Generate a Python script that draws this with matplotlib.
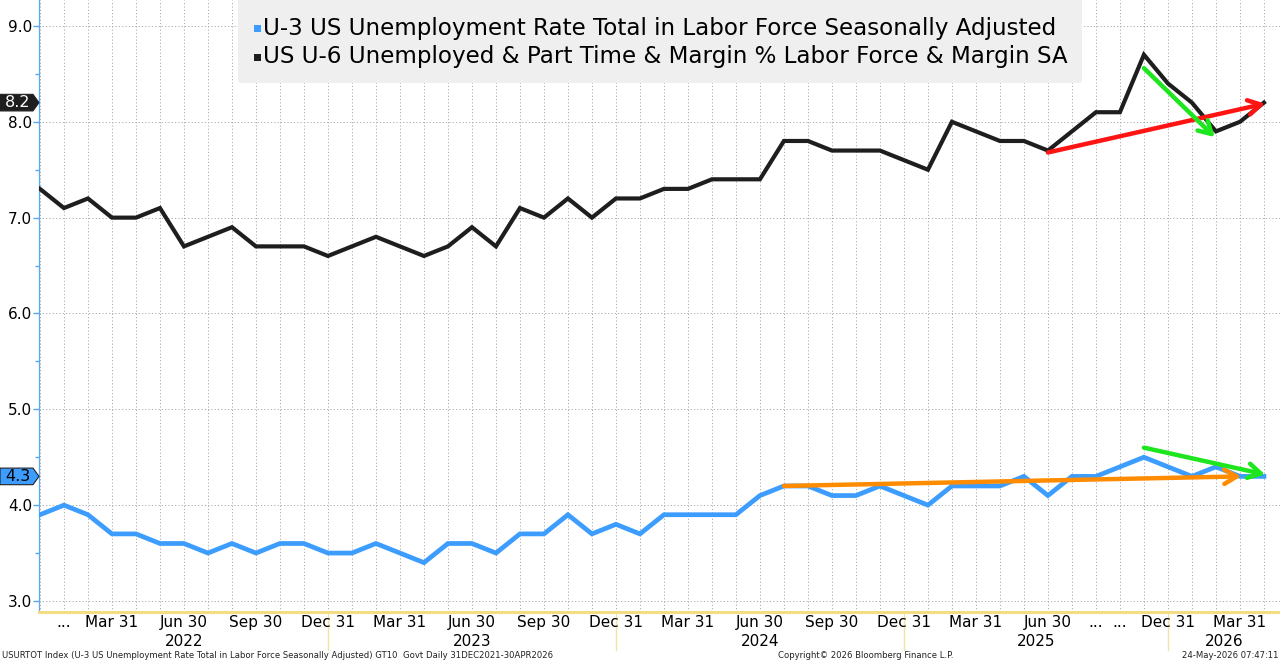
import matplotlib
matplotlib.use("Agg")
import matplotlib.pyplot as plt
from matplotlib.patches import Polygon, FancyBboxPatch
from matplotlib.transforms import blended_transform_factory

# ---------------- data ----------------
months = ["Dec-21", "Jan-22", "Feb-22", "Mar-22", "Apr-22", "May-22", "Jun-22", "Jul-22", "Aug-22",
          "Sep-22", "Oct-22", "Nov-22", "Dec-22", "Jan-23", "Feb-23", "Mar-23", "Apr-23", "May-23",
          "Jun-23", "Jul-23", "Aug-23", "Sep-23", "Oct-23", "Nov-23", "Dec-23", "Jan-24", "Feb-24",
          "Mar-24", "Apr-24", "May-24", "Jun-24", "Jul-24", "Aug-24", "Sep-24", "Oct-24", "Nov-24",
          "Dec-24", "Jan-25", "Feb-25", "Mar-25", "Apr-25", "May-25", "Jun-25", "Jul-25", "Aug-25",
          "Sep-25", "Nov-25", "Dec-25", "Jan-26", "Feb-26", "Mar-26", "Apr-26"]

u6 = [7.3, 7.1, 7.2, 7.0, 7.0, 7.1, 6.7, 6.8, 6.9, 6.7, 6.7, 6.7, 6.6, 6.7, 6.8, 6.7, 6.6, 6.7,
      6.9, 6.7, 7.1, 7.0, 7.2, 7.0, 7.2, 7.2, 7.3, 7.3, 7.4, 7.4, 7.4, 7.8, 7.8, 7.7, 7.7, 7.7,
      7.6, 7.5, 8.0, 7.9, 7.8, 7.8, 7.7, 7.9, 8.1, 8.1, 8.7, 8.4, 8.2, 7.9, 8.0, 8.2]

u3 = [3.9, 4.0, 3.9, 3.7, 3.7, 3.6, 3.6, 3.5, 3.6, 3.5, 3.6, 3.6, 3.5, 3.5, 3.6, 3.5, 3.4, 3.6,
      3.6, 3.5, 3.7, 3.7, 3.9, 3.7, 3.8, 3.7, 3.9, 3.9, 3.9, 3.9, 4.1, 4.2, 4.2, 4.1, 4.1, 4.2,
      4.1, 4.0, 4.2, 4.2, 4.2, 4.3, 4.1, 4.3, 4.3, 4.4, 4.5, 4.4, 4.3, 4.4, 4.3, 4.3]

x_tick_pos = [1, 3, 6, 9, 12, 15, 18, 21, 24, 27, 30, 33, 36, 39, 42, 44, 45, 47, 50]
x_tick_labels = ["...", "Mar 31", "Jun 30", "Sep 30", "Dec 31", "Mar 31", "Jun 30", "Sep 30",
                 "Dec 31", "Mar 31", "Jun 30", "Sep 30", "Dec 31", "Mar 31", "Jun 30", "...", "...",
                 "Dec 31", "Mar 31"]
year_labels = ["2022", "2023", "2024", "2025", "2026"]
year_bounds = [0, 12, 24, 36, 47]   # Dec-31 separator positions

y_ticks = [3.0, 4.0, 5.0, 6.0, 7.0, 8.0, 9.0]

u3_name = "U-3 US Unemployment Rate Total in Labor Force Seasonally Adjusted"
u6_name = "US U-6 Unemployed & Part Time & Margin % Labor Force & Margin SA"

# trend arrows (start index, start value, end index, end value, colour)
arrows = [
    (42, 7.68, 51.05, 8.19, "#ff1414"),
    (46, 8.56, 48.95, 7.84, "#1ee61e"),
    (31, 4.20, 50.05, 4.30, "#ff8c00"),
    (46, 4.60, 51.05, 4.32, "#1ee61e"),
]

footer_left = "USURTOT Index (U-3 US Unemployment Rate Total in Labor Force Seasonally Adjusted) GT10  Govt Daily 31DEC2021-30APR2026"
footer_mid = "Copyright\u00a9 2026 Bloomberg Finance L.P."
footer_right = "24-May-2026 07:47:11"

# ---------------- styling ----------------
BLUE = "#3d9dff"
BLACK = "#1e1e1e"
GRID = "#ababab"
W, H, DPI = 1280, 662, 100
plt.rcParams["font.family"] = ["DejaVu Sans"]

fig = plt.figure(figsize=(W / DPI, H / DPI), dpi=DPI, facecolor="white")
ax_l, ax_r, ax_b, ax_t = 39, 1280, 612, 0
ax = fig.add_axes([ax_l / W, (H - ax_b) / H, (ax_r - ax_l) / W, (ax_b - ax_t) / H])
ax.set_facecolor("white")

xs = list(range(len(months)))
ax.plot(xs, u6, color=BLACK, lw=3.0, solid_joinstyle="miter", zorder=4)
ax.plot(xs, u3, color=BLUE, lw=3.4, solid_joinstyle="miter", zorder=4)

ax.set_xlim(-0.04, 51.67)
ax.set_ylim(2.885, 9.271)

# grid
for i in xs:
    ax.axvline(i, color=GRID, lw=0.7, ls=(0, (1.2, 2.2)), zorder=1)
for v in y_ticks:
    ax.axhline(v, color=GRID, lw=0.7, ls=(0, (1.2, 2.2)), zorder=1)

# spines
for s in ["top", "right"]:
    ax.spines[s].set_visible(False)
ax.spines["left"].set_color("#5aa8f0")
ax.spines["left"].set_linewidth(0.9)
ax.spines["bottom"].set_color("#f2dc84")
ax.spines["bottom"].set_linewidth(2.2)

# y ticks
ax.set_yticks(y_ticks)
ax.set_yticklabels([f"{v:.1f}" for v in y_ticks], fontsize=11, color="black")
ax.set_yticks([3.5, 4.5, 5.5, 6.5, 7.5, 8.5], minor=True)
ax.tick_params(axis="y", which="major", length=4, width=1, color="#5aa8f0", pad=1)
ax.tick_params(axis="y", which="minor", length=3, width=1, color="#5aa8f0")

# x ticks
ax.set_xticks(x_tick_pos)
ax.set_xticklabels(x_tick_labels, fontsize=11, color="black")
ax.tick_params(axis="x", length=0, pad=2)

# year separators and labels
tr = blended_transform_factory(ax.transData, ax.transAxes)
for b in year_bounds[1:]:
    ax.plot([b, b], [0, -38 / 612], transform=tr, color="#f3e3a4", lw=1, clip_on=False, zorder=0)
edges = year_bounds + [51.67]
for k, lab in enumerate(year_labels):
    cx = (edges[k] + edges[k + 1]) / 2
    ax.text(cx, -29 / 612, lab, transform=tr, ha="center", va="center", fontsize=11)

# arrows
for x0, y0, x1, y1, c in arrows:
    ax.annotate("", xy=(x1, y1), xytext=(x0, y0),
                arrowprops=dict(arrowstyle="->,head_length=0.45,head_width=0.26", color=c, lw=3.2,
                                shrinkA=0, shrinkB=0, mutation_scale=20),
                zorder=6, annotation_clip=False)

# last-value tags
trl = blended_transform_factory(ax.transAxes, ax.transData)
aw = ax_r - ax_l
hh = 8.3 / (612 / (9.271 - 2.885))
for val, fc, tc in [(u6[-1], BLACK, "white"), (u3[-1], BLUE, "black")]:
    pts = [(-39 / aw, val - hh), (-6 / aw, val - hh), (0, val), (-6 / aw, val + hh), (-39 / aw, val + hh)]
    ax.add_patch(Polygon(pts, closed=True, transform=trl, facecolor=fc, edgecolor="#222222",
                         lw=0.8, clip_on=False, zorder=7))
    ax.text(-21 / aw, val, f"{val:.1f}", transform=trl, ha="center", va="center",
            color=tc, fontsize=11.5, zorder=8)

# legend (box + markers + text), sized in pixels
ptr = fig.transFigure
def fx(px):
    return px / W
def fy(py):
    return (H - py) / H

box = FancyBboxPatch((fx(238), fy(83)), fx(1082) - fx(238), fy(-5) - fy(83),
                     boxstyle="round,pad=0,rounding_size=0.004", transform=ptr,
                     facecolor="#efefef", edgecolor="none", zorder=9)
fig.patches.append(box)
leg_fs = 15.5
t1 = fig.text(fx(263), fy(28), u3_name, fontsize=leg_fs, va="center", ha="left", zorder=10)
t2 = fig.text(fx(263), fy(57), u6_name, fontsize=leg_fs, va="center", ha="left", zorder=10)
fig.canvas.draw()
r = fig.canvas.get_renderer()
wid = max(t1.get_window_extent(r).width, t2.get_window_extent(r).width)
leg_fs = leg_fs * 806 / wid
t1.set_fontsize(leg_fs)
t2.set_fontsize(leg_fs)
for py, c in [(28, BLUE), (57, BLACK)]:
    fig.patches.append(plt.Rectangle((fx(254), fy(py + 3.5)), 7 / W, 7 / H, transform=ptr,
                                     facecolor=c, edgecolor="none", zorder=10))

# footer
f1 = fig.text(fx(2), fy(656), footer_left, fontsize=6.5, va="center", ha="left", color="#222222")
fig.canvas.draw()
fw = f1.get_window_extent(r).width
ffs = 6.5 * 547 / fw
f1.set_fontsize(ffs)
fig.text(fx(866), fy(656), footer_mid, fontsize=ffs, va="center", ha="center", color="#222222")
fig.text(fx(1278), fy(656), footer_right, fontsize=ffs, va="center", ha="right", color="#222222")

fig.savefig("out.png", dpi=DPI, facecolor="white")
